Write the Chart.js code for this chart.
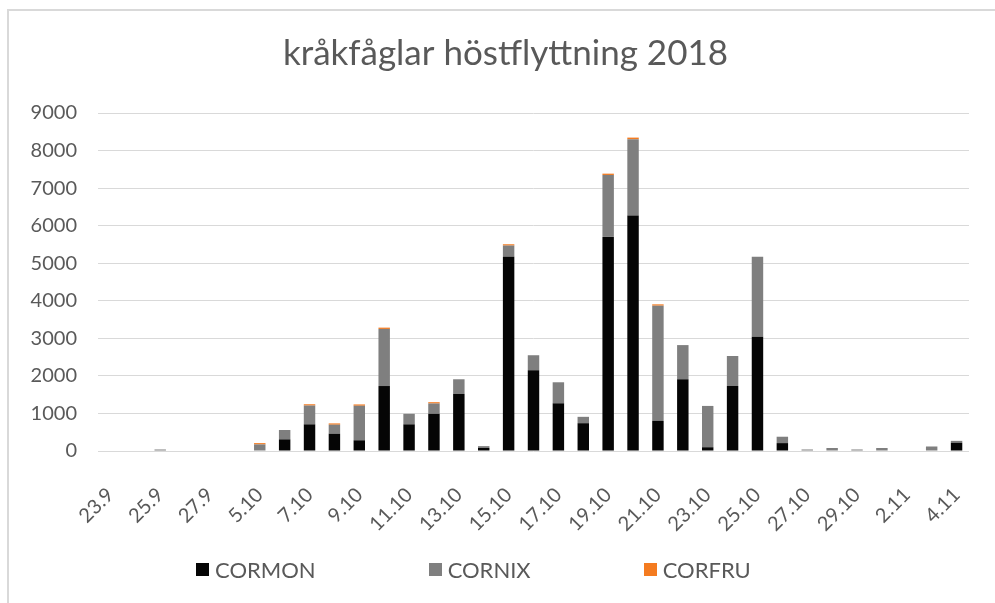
<!DOCTYPE html>
<html>
<head>
<meta charset="utf-8">
<script src="https://cdn.jsdelivr.net/npm/chart.js@4"></script>
<style>
  body { margin: 0; background: #fff; overflow: hidden; font-family: Lato, sans-serif; }
  #frame { position: absolute; left: 7px; top: 9px; width: 993px; height: 620px; border: 2px solid #d9d9d9; }
  #graph { display: block; }
  #legend { position: absolute; left: 196px; top: 556px; display: flex; gap: 113px; color: #595959; font-size: 22px; }
  .item { display: flex; align-items: center; gap: 6px; }
  .box { width: 13px; height: 13px; }
</style>
</head>
<body>
<div id="frame"><canvas id="graph" width="993" height="592"></canvas></div>
<div id="legend"></div>
<script>
const dates = ['23.9', '24.9', '25.9', '26.9', '27.9', '28.9', '5.10', '6.10', '7.10', '8.10',
    '9.10', '10.10', '11.10', '12.10', '13.10', '14.10', '15.10', '16.10', '17.10', '18.10',
    '19.10', '20.10', '21.10', '22.10', '23.10', '24.10', '25.10', '26.10', '27.10', '28.10',
    '29.10', '31.10', '2.11', '3.11', '4.11']

const cormon = [0, 0, 0, 0, 0, 0, 0, 310, 710, 460,
    285, 1730, 710, 990, 1520, 80, 5170, 2150, 1270, 740,
    5700, 6270, 800, 1910, 100, 1730, 3040, 210, 0, 0,
    0, 0, 0, 0, 220]
const cornix = [0, 0, 40, 0, 0, 0, 175, 250, 500, 240,
    920, 1520, 280, 275, 390, 50, 300, 400, 560, 170,
    1650, 2030, 3070, 910, 1100, 800, 2130, 170, 40, 80,
    40, 80, 0, 120, 50]
const corfru = [0, 0, 0, 0, 0, 0, 35, 0, 35, 35,
    35, 35, 0, 35, 0, 0, 35, 0, 0, 0,
    35, 45, 35, 0, 0, 0, 0, 0, 0, 0,
    0, 0, 0, 0, 0]

const yTicks = [0, 1000, 2000, 3000, 4000, 5000, 6000, 7000, 8000, 9000]

const textColor = '#595959'
const tickFont = { family: 'Lato', size: 20 }

const canv = /**@type {HTMLCanvasElement}*/(document.getElementById("graph"))
const ctx = canv.getContext("2d")

const chart = new Chart(ctx, {
    type: 'bar',
    data: {
        labels: dates,
        datasets: [
            { label: 'CORMON', data: cormon, backgroundColor: '#050505' },
            { label: 'CORNIX', data: cornix, backgroundColor: '#7f7f7f' },
            { label: 'CORFRU', data: corfru, backgroundColor: '#f47b20' }
        ]
    },
    options: {
        responsive: false,
        animation: false,
        layout: { padding: 0 },
        datasets: { bar: { categoryPercentage: 1, barPercentage: 0.46 } },
        plugins: {
            legend: { display: false },
            tooltip: { enabled: false },
            title: {
                display: true,
                text: 'kråkfåglar höstflyttning 2018',
                color: textColor,
                font: { family: 'Lato', size: 35, weight: 'normal' },
                padding: { top: 22, bottom: 38 }
            }
        },
        scales: {
            x: {
                stacked: true,
                grid: { display: false },
                border: { display: false },
                ticks: {
                    autoSkip: false,
                    minRotation: 45,
                    maxRotation: 45,
                    padding: 24,
                    color: textColor,
                    font: tickFont,
                    callback: (v, i) => i % 2 ? '' : dates[i]
                },
                afterFit: s => { s.height = 152 }
            },
            y: {
                stacked: true,
                min: yTicks[0],
                max: yTicks[yTicks.length - 1],
                grid: { color: '#d9d9d9', drawTicks: false },
                border: { display: false },
                ticks: {
                    stepSize: 1000,
                    padding: 21,
                    color: textColor,
                    font: tickFont,
                    callback: v => String(v)
                },
                afterFit: s => { s.width = 89 }
            },
            // empty axis on the right, only keeps the plot off the edge
            yPad: {
                position: 'right',
                grid: { display: false },
                border: { display: false },
                ticks: { display: false },
                afterFit: s => { s.width = 33 }
            }
        }
    }
})

// html legend, wide spacing like the original
const legend = document.getElementById('legend')
chart.data.datasets.forEach(ds => {
    const item = document.createElement('div')
    item.className = 'item'
    const box = document.createElement('span')
    box.className = 'box'
    box.style.background = ds.backgroundColor
    const txt = document.createElement('span')
    txt.textContent = ds.label
    item.append(box, txt)
    legend.append(item)
})
</script>
</body>
</html>
